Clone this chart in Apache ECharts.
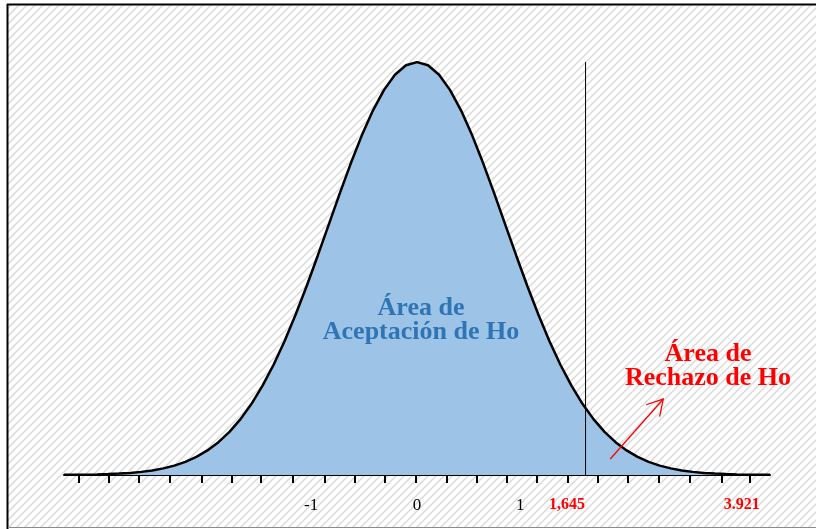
<!DOCTYPE html>
<html><head><meta charset="utf-8">
<script src="https://cdn.jsdelivr.net/npm/echarts@6/dist/echarts.min.js"></script>
<style>html,body{margin:0;padding:0;background:#fff}#c{width:816px;height:529px}</style>
</head><body><div id="c"></div>
<script>
// Curve positions (axis units) and heights
const zValues = [-4,-3.875,-3.75,-3.625,-3.5,-3.375,-3.25,-3.125,-3,-2.875,-2.75,-2.625,-2.5,-2.375,-2.25,-2.125,-2,-1.875,-1.75,-1.625,-1.5,-1.375,-1.25,-1.125,-1,-0.875,-0.75,-0.625,-0.5,-0.375,-0.25,-0.125,0,0.125,0.25,0.375,0.5,0.625,0.75,0.875,1,1.125,1.25,1.375,1.5,1.625,1.75,1.875,2,2.125,2.25,2.375,2.5,2.625,2.75,2.875,3,3.125,3.25,3.375,3.5,3.625,3.75,3.875,4];
const density = [0.00013,0.00022,0.00035,0.00056,0.00087,0.00134,0.00203,0.00302,0.00443,0.0064,0.00909,0.01272,0.01753,0.02377,0.03174,0.04172,0.05399,0.06878,0.08628,0.10654,0.12952,0.15501,0.18265,0.21188,0.24197,0.27205,0.30114,0.32816,0.35207,0.37186,0.38667,0.39584,0.39894,0.39584,0.38667,0.37186,0.35207,0.32816,0.30114,0.27205,0.24197,0.21188,0.18265,0.15501,0.12952,0.10654,0.08628,0.06878,0.05399,0.04172,0.03174,0.02377,0.01753,0.01272,0.00909,0.0064,0.00443,0.00302,0.00203,0.00134,0.00087,0.00056,0.00035,0.00022,0.00013];
const tickValues = [-3.83,-3.49,-3.15,-2.80,-2.44,-2.10,-1.77,-1.41,-1.05,-0.71,-0.37,-0.01,0.34,0.68,1.02,1.36,1.71,2.05,2.39,2.74,3.09,3.45,3.77];
const labelValues = [-1.2, 0, 1.17, 1.70, 3.68];
const labelTexts = ['-1', '0', '1', '1,645', '3.921'];
const labelRed = [false, false, false, true, true];
const criticalLine = 1.91;
const peakHeight = 0.39894;
const arrowFrom = [2.19, 0.0155];
const arrowTo = [2.79, 0.0734];
const acceptText = 'Área de\nAceptación de Ho';
const rejectText = 'Área de\nRechazo de Ho';

const chart = echarts.init(document.getElementById('c'), null, {renderer: 'canvas'});

function makePattern() {
  const s = 8;
  const cv = document.createElement('canvas');
  cv.width = s; cv.height = s;
  const ctx = cv.getContext('2d');
  ctx.fillStyle = '#ffffff';
  ctx.fillRect(0, 0, s, s);
  ctx.strokeStyle = '#dadada';
  ctx.lineWidth = 1.5;
  ctx.beginPath();
  ctx.moveTo(-2, s + 2); ctx.lineTo(s + 2, -2);
  ctx.moveTo(-2, 2); ctx.lineTo(2, -2);
  ctx.moveTo(s - 2, s + 2); ctx.lineTo(s + 2, s - 2);
  ctx.stroke();
  return {image: cv, repeat: 'repeat'};
}

const serif = '"Liberation Serif", "Times New Roman", serif';

chart.setOption({
  animation: false,
  backgroundColor: '#ffffff',
  grid: {left: 64, right: 46, top: 61, bottom: 54},
  xAxis: {
    type: 'value', min: -4, max: 4,
    splitLine: {show: false},
    axisLine: {show: true, lineStyle: {color: '#000', width: 2}},
    axisTick: {show: true, customValues: tickValues, length: 8, inside: false, lineStyle: {color: '#000', width: 2}},
    axisLabel: {
      show: true, customValues: labelValues, margin: 22,
      formatter: function (v) {
        let bi = 0, bd = Infinity;
        labelValues.forEach((lv, i) => { const d = Math.abs(lv - v); if (d < bd) { bd = d; bi = i; } });
        return labelRed[bi] ? '{r|' + labelTexts[bi] + '}' : '{k|' + labelTexts[bi] + '}';
      },
      rich: {
        k: {fontFamily: serif, fontSize: 17, color: '#000'},
        r: {fontFamily: serif, fontSize: 16, fontWeight: 'bold', color: '#ff0000'}
      }
    }
  },
  yAxis: {type: 'value', min: 0, max: 0.4, show: false, splitLine: {show: false}},
  series: [
    {
      type: 'line', data: zValues.map((z, i) => [z, density[i]]),
      symbol: 'none', smooth: false, z: 3,
      lineStyle: {color: '#000', width: 2.5},
      areaStyle: {color: '#9DC3E6', opacity: 1}
    },
    {
      type: 'line', data: [[criticalLine, 0], [criticalLine, peakHeight]],
      symbol: 'none', z: 4,
      lineStyle: {color: '#000', width: 1}
    }
  ]
});

const p0 = chart.convertToPixel({gridIndex: 0}, arrowFrom);
const p1 = chart.convertToPixel({gridIndex: 0}, arrowTo);
const ang = Math.atan2(p0[1] - p1[1], p0[0] - p1[0]);
const L = 18, A = Math.PI / 6;
const b1 = [p1[0] + L * Math.cos(ang + A), p1[1] + L * Math.sin(ang + A)];
const b2 = [p1[0] + L * Math.cos(ang - A), p1[1] + L * Math.sin(ang - A)];

chart.setOption({
  graphic: [
    {type: 'rect', id: 'bg', silent: true, z: -10, shape: {x: 8, y: 5, width: 808, height: 522}, style: {fill: makePattern()}},
    {type: 'line', id: 'bl', silent: true, z: 10, shape: {x1: 7.5, y1: 4, x2: 7.5, y2: 529}, style: {stroke: '#000', lineWidth: 2}},
    {type: 'line', id: 'bt', silent: true, z: 10, shape: {x1: 7, y1: 4.5, x2: 816, y2: 4.5}, style: {stroke: '#000', lineWidth: 2}},
    {type: 'line', id: 'bb', silent: true, z: 10, shape: {x1: 8, y1: 527.5, x2: 816, y2: 527.5}, style: {stroke: '#8a8a8a', lineWidth: 1}},
    {type: 'text', id: 't1', z: 20, x: 421, y: 320, style: {text: acceptText, font: 'bold 26px ' + serif, fill: '#2E75B6', textAlign: 'center', textVerticalAlign: 'middle', lineHeight: 24}},
    {type: 'text', id: 't2', z: 20, x: 708, y: 366, style: {text: rejectText, font: 'bold 26px ' + serif, fill: '#ff0000', textAlign: 'center', textVerticalAlign: 'middle', lineHeight: 24}},
    {type: 'line', id: 'a1', z: 20, silent: true, shape: {x1: p0[0], y1: p0[1], x2: p1[0], y2: p1[1]}, style: {stroke: '#ff0000', lineWidth: 1.3}},
    {type: 'polyline', id: 'a2', z: 20, silent: true, shape: {points: [b1, p1, b2]}, style: {stroke: '#ff0000', lineWidth: 1.3, fill: null}}
  ]
});
</script></body></html>
